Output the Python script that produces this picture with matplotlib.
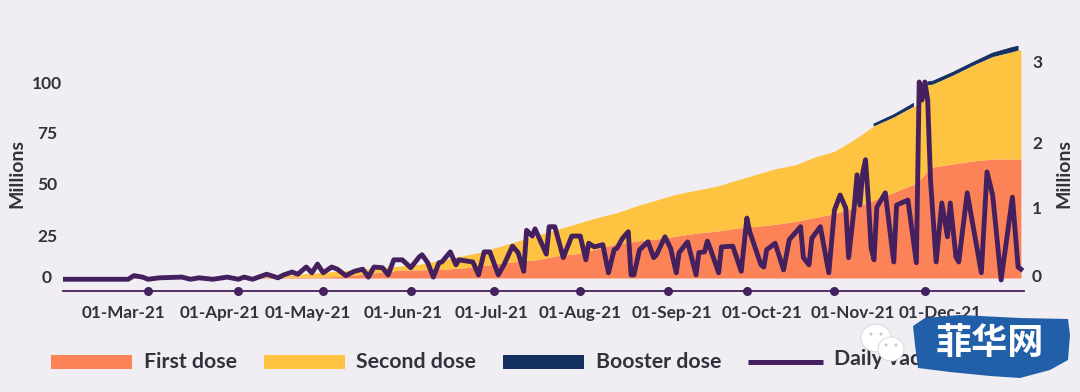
import numpy as np
import matplotlib
matplotlib.use("Agg")
import matplotlib.pyplot as plt
from matplotlib.patches import Rectangle, Polygon, Ellipse
from matplotlib.transforms import ScaledTranslation

bg = '#f0edf3'
text_col = '#33323c'
orange = '#fc8357'
yellow = '#fec340'
navy = '#14305f'
purple = '#45205f'
font = 'Lato'

# x values are days since 1 Jan 2021
dose_days = [29, 36, 43, 50, 57, 64, 71, 78, 85, 92, 99, 106, 113, 120, 127,
             134, 141, 148, 155, 162, 169, 176, 183, 190, 197, 204, 211, 218,
             225, 232, 239, 246, 253, 260, 267, 274, 281, 288, 295, 302, 309,
             316, 323, 330, 331, 335, 337, 344, 351, 358, 365, 367, 368]
first_dose = [.3, .3, .4, .4, .4, .4, .4, .4, .4, .4, .4, .4, .4, .5, .8,
              1.8, 3, 4, 4.2, 4.4, 5, 6, 7.5, 8.5, 9.5, 11.5, 12.5, 15,
              17.5, 19, 20, 21.5, 23, 24, 25.5, 26.5, 27.5, 29, 31, 33, 36,
              40, 44, 48, 48.5, 55, 57, 58.5, 60, 61, 61, 61, 61]
second_dose = [0, .1, .1, .1, .1, .1, .2, .2, .3, .3, .4, .6, 1.6, 2.3, 2.7,
               2.7, 2.4, 2, 2.8, 4.6, 6, 7, 8.5, 10.5, 12.5, 13.5, 15.5, 16,
               16, 18, 20, 21.5, 22, 23, 24.5, 26.5, 28.5, 29, 31, 32, 35,
               38, 38.5, 40, 40, 44, 42.5, 45.5, 49, 52.5, 55, 55.8, 56]
booster_dose = [0, 0, 0, 0, 0, 0, 0, 0, 0, 0, 0, 0, 0, 0, 0,
                0, 0, 0, 0, 0, 0, 0, 0, 0, 0, 0, 0, 0,
                0, 0, 0, 0, 0, 0, 0, 0, 0, 0, 0, 0, 0,
                1, 1.2, 1.5, 0, 1.5, 1.5, 1.5, 1.5, 1.8, 2.2, 2, 0]

daily_days = [29, 52, 54, 57, 59, 63, 71, 74, 77, 82, 87, 91, 93, 96, 101, 105,
              107, 110, 112, 115, 117, 119, 121, 124, 126, 129, 132, 135, 137,
              139, 142, 144, 146, 149, 152, 155, 156, 158, 160, 162, 163, 166,
              168, 169, 174, 176, 178, 180, 183, 185, 188, 190, 192, 193, 195,
              196, 200, 201, 203, 206, 209, 212, 214, 215, 217, 220, 222, 224,
              225, 227, 229, 230, 231, 233, 236, 238, 239, 242, 244, 246, 247,
              250, 253, 254, 256, 257, 258, 261, 262, 266, 269, 271, 272, 276,
              277, 278, 281, 284, 286, 290, 291, 293, 294, 297, 300, 302, 304,
              306, 307, 309, 310, 311, 312, 313, 314, 315, 316, 317, 320, 323,
              324, 328, 331, 332, 333, 334, 335, 336, 338, 340, 342, 343, 345,
              346, 349, 354, 356, 358, 361, 365, 367, 368]
daily_vacc = [.01, .01, .06, .04, .01, .03, .04, .01, .03, .01, .04, .01, .04, .01, .08, .03,
              .07, .11, .08, .18, .10, .22, .10, .18, .15, .06, .12, .15, .04,
              .18, .17, .07, .28, .28, .17, .32, .35, .24, .04, .24, .25, .39,
              .21, .28, .25, .07, .39, .39, .07, .21, .47, .38, .12, .69, .61,
              .71, .36, .74, .74, .31, .61, .61, .28, .51, .46, .49, .10, .42,
              .44, .58, .67, .07, .07, .42, .53, .31, .35, .60, .44, .10, .38,
              .53, .07, .38, .39, .54, .44, .10, .46, .47, .12, .86, .67, .21,
              .18, .42, .51, .14, .56, .74, .31, .21, .58, .74, .10, .97, 1.18,
              1.00, .31, 1.01, 1.46, 1.04, 1.49, 1.67, 1.11, .44, .28, 1.01, 1.21, .25,
              1.04, 1.11, .24, 2.75, 2.50, 2.75, 2.50, 1.39, .25, 1.07, .60, 1.07, .32,
              .25, 1.21, .10, 1.50, 1.18, 0, 1.15, .18, .15]

# tick marks sit slightly off a regular scale in the picture
month_labels = ['01-Mar-21', '01-Apr-21', '01-May-21', '01-Jun-21', '01-Jul-21',
                '01-Aug-21', '01-Sep-21', '01-Oct-21', '01-Nov-21', '01-Dec-21']
month_ticks = [59, 91, 121, 152, 181.5, 212, 243, 271, 302, 334]
month_label_shift = [-25, -19, -15, -8, -3, 0, 4, 15, 18, 15]
left_labels = ['0', '25', '50', '75', '100']
left_ticks = [1, 22, 48.7, 74.4, 100]
right_labels = ['0', '1', '2', '3']
right_ticks = [.056, 1.01, 1.903, 3.03]

W, H = 1080, 392
fig = plt.figure(figsize=(W/100, H/100), dpi=100, facecolor=bg)
ax = fig.add_axes([63.3/W, (H-290.7)/H, (1024-63.3)/W, 270.7/H])
ax.set_facecolor('none')

first = np.array(first_dose)
second = np.array(second_dose)
booster = np.array(booster_dose)
ax.fill_between(dose_days, 0, first, color=orange, lw=0)
ax.fill_between(dose_days, first, first+second, color=yellow, lw=0)
ax.fill_between(dose_days, first+second, first+second+booster, where=booster > 0,
                color=navy, lw=0.6)

ax.set_xlim(29, 369.1)
ax.set_ylim(-6.5, 132.3)
for s in ['top', 'left', 'right']:
    ax.spines[s].set_visible(False)
ax.spines['bottom'].set_color(purple)
ax.spines['bottom'].set_linewidth(1.3)

ax.set_xticks(month_ticks)
ax.set_xticklabels(month_labels, fontsize=12.3, fontweight='bold', family=font,
                   color=text_col)
ax.tick_params(axis='x', length=0, pad=10)
for tick, shift in zip(ax.xaxis.get_major_ticks(), month_label_shift):
    tick.tick1line.set_marker('o')
    tick.tick1line.set_markersize(6.5)
    tick.tick1line.set_markeredgewidth(0)
    tick.tick1line.set_color(purple)
    lab = tick.label1
    lab.set_transform(lab.get_transform() + ScaledTranslation(shift/100, 0, fig.dpi_scale_trans))

ax.set_yticks(left_ticks)
ax.set_yticklabels(left_labels, fontsize=12.5, fontweight='bold', family=font,
                   color=text_col, ha='center')
ax.tick_params(axis='y', length=0, pad=11.7)

ax2 = ax.twinx()
ax2.set_facecolor('none')
ax2.plot(daily_days, daily_vacc, color=purple, lw=3.5, solid_joinstyle='round')
ax2.set_ylim(-0.149, 3.611)
for s in ax2.spines.values():
    s.set_visible(False)
ax2.set_yticks(right_ticks)
ax2.set_yticklabels(right_labels, fontsize=12.5, fontweight='bold', family=font,
                    color=text_col, ha='center')
ax2.tick_params(axis='y', length=0, pad=9.4)

# overlay in pixels for axis titles, legend and the watermark
ov = fig.add_axes([0, 0, 1, 1], zorder=5)
ov.set_xlim(0, W)
ov.set_ylim(H, 0)
ov.axis('off')

for x in [17, 1064]:
    ov.text(x, 173, 'Millions', rotation=90, ha='center', va='center', fontsize=14,
            fontweight='bold', family=font, color=text_col)

for x0, x1, col, label, tx in [(51, 132, orange, 'First dose', 144),
                               (264, 345, yellow, 'Second dose', 356),
                               (503, 584, navy, 'Booster dose', 596)]:
    ov.add_patch(Rectangle((x0, 355), x1-x0, 14, color=col, lw=0))
    ov.text(tx, 362, label, ha='left', va='center', fontsize=15.3, fontweight='bold',
            family=font, color=text_col)
ov.plot([748, 823], [362, 362], color=purple, lw=3.6, solid_capstyle='butt')
ov.text(834, 359, 'Daily vaccinations', ha='left', va='center', fontsize=15.3,
        fontweight='bold', family=font, color=text_col)

# watermark on top of the last legend entry
for cx, cy, r in [(876, 338, 15), (891, 349, 13)]:
    ov.add_patch(Ellipse((cx, cy), 2*r, 2*r*.92, fc='white', ec='#dedbe0', lw=.8, zorder=10))
for ex, ey in [(871, 334), (881, 334), (886, 345), (896, 345)]:
    ov.add_patch(Ellipse((ex, ey), 3, 3, fc='#c9c7cc', lw=0, zorder=11))
ov.add_patch(Polygon([(913, 326), (925, 318), (960, 315), (1020, 318), (1068, 319),
                      (1070, 335), (1068, 360), (1050, 370), (1020, 378), (990, 376),
                      (950, 372), (918, 368), (915, 345)], fc='#2160a8', lw=0, zorder=12))
ov.text(990, 343, '菲华网', ha='center', va='center', fontsize=26, fontweight='bold',
        family=['Noto Sans CJK SC', 'DejaVu Sans'], color='white', zorder=13)

fig.savefig('out.png', dpi=100, facecolor=bg)
